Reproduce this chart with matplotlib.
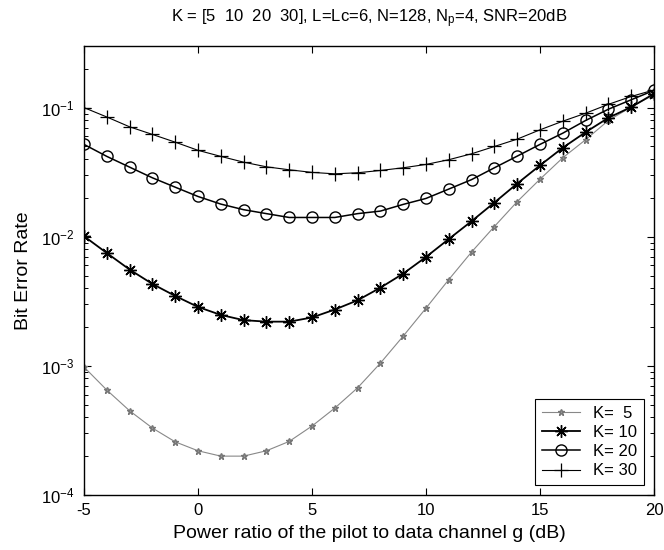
import matplotlib
matplotlib.use("Agg")
import matplotlib.pyplot as plt
import numpy as np
from matplotlib.ticker import LogLocator, NullFormatter

plt.rcParams['font.family'] = ['Liberation Sans', 'DejaVu Sans']
plt.rcParams['mathtext.fontset'] = 'custom'
plt.rcParams['mathtext.rm'] = 'Liberation Sans'
plt.rcParams['mathtext.it'] = 'Liberation Sans'

g_db = list(range(-5, 21))

ber_k5 = [0.00098, 0.00065, 0.000449, 0.00033, 0.000258, 0.00022, 0.0002, 0.0002,
          0.00022, 0.00026, 0.000342, 0.000471, 0.000676, 0.00105, 0.0017, 0.0028,
          0.00466, 0.00762, 0.0120, 0.0187, 0.0279, 0.0409, 0.0564, 0.0795, 0.101, 0.126]
ber_k10 = [0.0101, 0.00748, 0.00557, 0.00431, 0.00348, 0.00286, 0.00248, 0.00226,
           0.00220, 0.00220, 0.00237, 0.00273, 0.00322, 0.00403, 0.00518, 0.00697,
           0.0096, 0.0132, 0.0184, 0.0258, 0.0357, 0.0489, 0.0645, 0.0834, 0.101, 0.128]
ber_k20 = [0.0519, 0.0419, 0.0346, 0.0286, 0.0242, 0.0205, 0.0179, 0.0162,
           0.0151, 0.0141, 0.0141, 0.0141, 0.0151, 0.0158, 0.0178, 0.0198,
           0.0234, 0.0277, 0.0342, 0.0421, 0.0519, 0.0634, 0.0795, 0.0972, 0.115, 0.136]
ber_k30 = [0.100, 0.0846, 0.071, 0.062, 0.054, 0.0467, 0.0419, 0.0378,
           0.0348, 0.033, 0.0315, 0.0307, 0.0313, 0.0326, 0.0342, 0.0363,
           0.0395, 0.0439, 0.0500, 0.057, 0.0673, 0.0785, 0.0905, 0.106, 0.122, 0.137]

labels = ['K=  5', 'K= 10', 'K= 20', 'K= 30']

fig = plt.figure(figsize=(6.64, 5.5), dpi=100)
ax = fig.add_axes([84/664, 1-495/550, 570/664, 449/550])

ax.plot(g_db, ber_k5, color='#888888', lw=0.8, marker='*', ms=4.5,
        mec='#777777', mfc='#999999', label=labels[0])
ax.plot(g_db, ber_k10, color='black', lw=1.3, marker=(8, 2, 0), ms=9,
        mew=1.0, label=labels[1])
ax.plot(g_db, ber_k20, color='black', lw=1.1, marker='o', ms=8,
        mfc='none', mew=1.0, label=labels[2])
ax.plot(g_db, ber_k30, color='black', lw=0.8, marker='+', ms=10,
        mew=0.9, label=labels[3])

ax.set_yscale('log')
ax.set_xlim(-5, 20)
ax.set_ylim(1e-4, 0.3)
ax.set_xticks([-5, 0, 5, 10, 15, 20])
ax.set_xticklabels(['-5', '0', '5', '10', '15', '20'])
ax.yaxis.set_major_locator(LogLocator(base=10, numticks=10))
ax.yaxis.set_minor_locator(LogLocator(base=10, subs=np.arange(2, 10), numticks=20))
ax.yaxis.set_minor_formatter(NullFormatter())

ax.tick_params(which='both', direction='in', top=True, right=True, labelsize=12)
ax.tick_params(which='major', length=5, width=0.8)
ax.tick_params(axis='y', which='major', pad=7)
ax.tick_params(axis='x', which='major', pad=6)
ax.tick_params(which='minor', length=3, width=0.7)
for s in ax.spines.values():
    s.set_linewidth(1.0)

ax.set_xlabel('Power ratio of the pilot to data channel g (dB)', fontsize=14, labelpad=5)
ax.set_ylabel('Bit Error Rate', fontsize=14, labelpad=6)
ax.set_title(r'K = [5  10  20  30], L=Lc=6, N=128, N$_\mathrm{p}$=4, SNR=20dB',
             fontsize=12, pad=17)

leg = ax.legend(loc='lower right', fontsize=12, frameon=True, fancybox=False,
                edgecolor='black', framealpha=1, handlelength=2.3,
                borderaxespad=0.6, labelspacing=0.25, handletextpad=0.8,
                borderpad=0.4)
leg.get_frame().set_linewidth(0.8)

fig.savefig('out.png', dpi=100)
